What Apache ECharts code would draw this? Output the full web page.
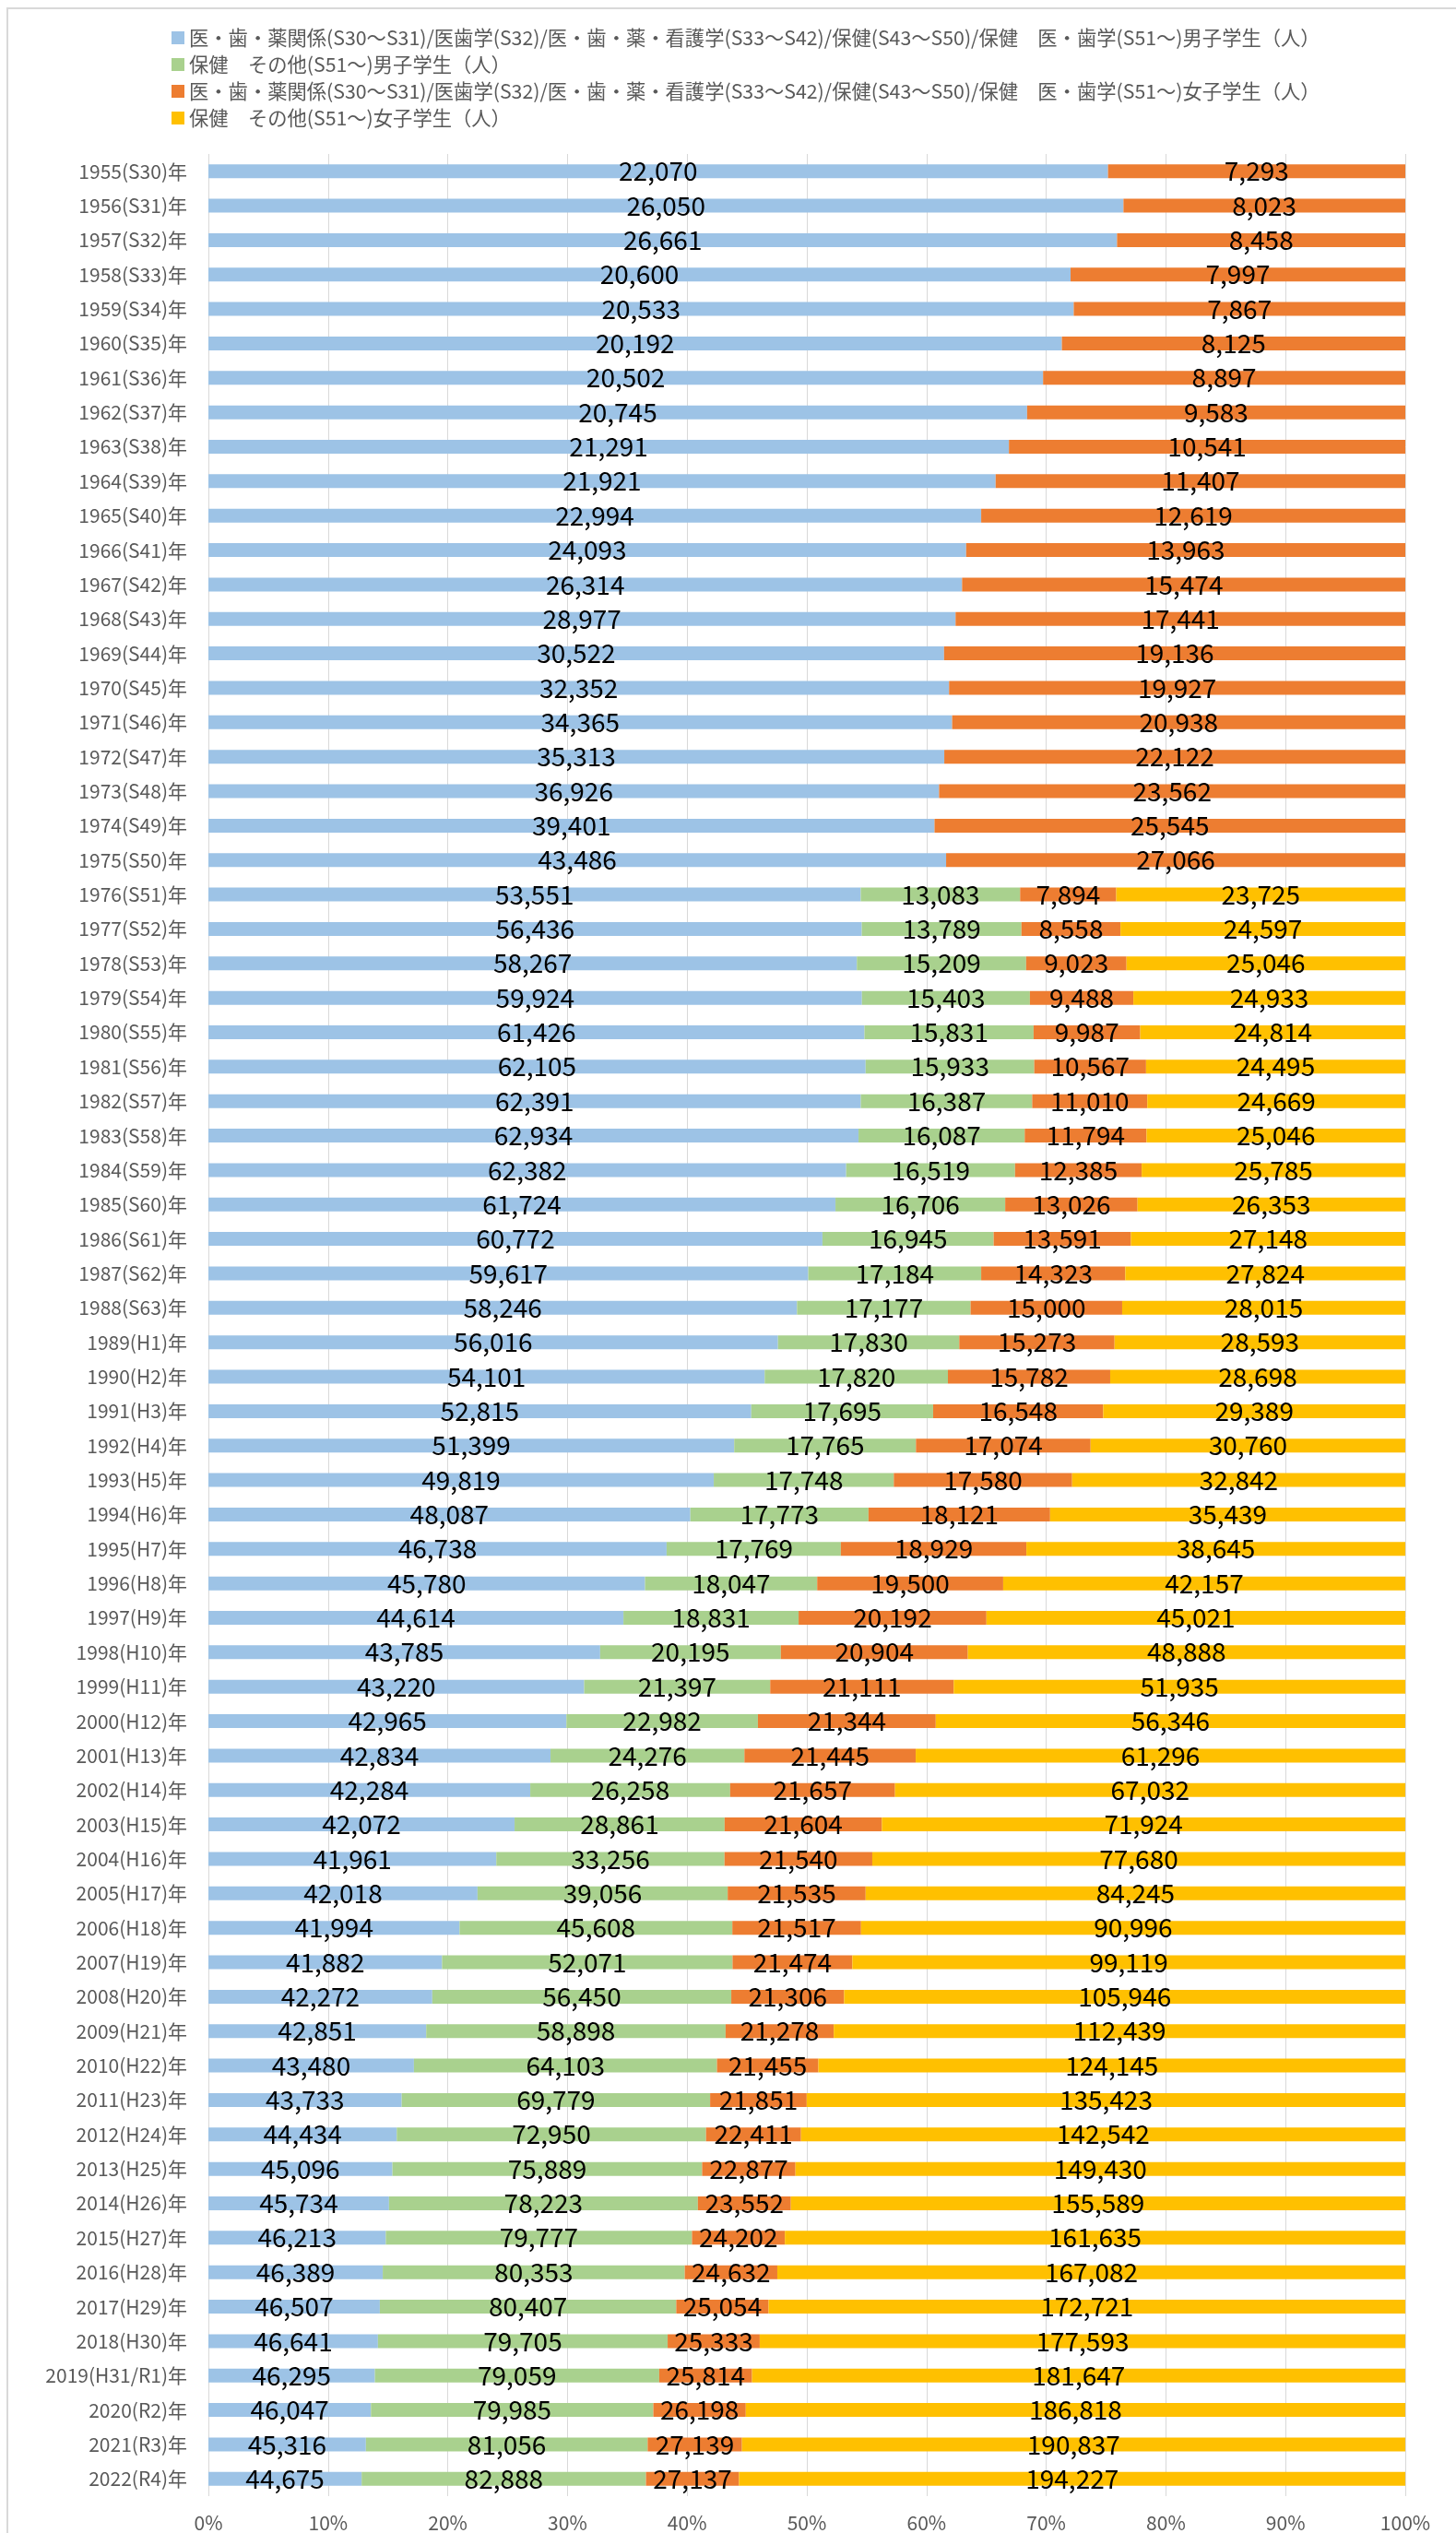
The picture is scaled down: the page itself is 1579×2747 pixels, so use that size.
<!DOCTYPE html>
<html>
<head>
<meta charset="utf-8">
<script src="https://cdn.jsdelivr.net/npm/echarts@6/dist/echarts.min.js"></script>
<style>
  html, body { margin: 0; padding: 0; background: #fff; }
  #main { width: 1579px; height: 2747px; }
</style>
</head>
<body>
<div id="main"></div>
<script>
// 年度ラベル
const years = [
  '1955(S30)年','1956(S31)年','1957(S32)年','1958(S33)年','1959(S34)年','1960(S35)年',
  '1961(S36)年','1962(S37)年','1963(S38)年','1964(S39)年','1965(S40)年','1966(S41)年',
  '1967(S42)年','1968(S43)年','1969(S44)年','1970(S45)年','1971(S46)年','1972(S47)年',
  '1973(S48)年','1974(S49)年','1975(S50)年','1976(S51)年','1977(S52)年','1978(S53)年',
  '1979(S54)年','1980(S55)年','1981(S56)年','1982(S57)年','1983(S58)年','1984(S59)年',
  '1985(S60)年','1986(S61)年','1987(S62)年','1988(S63)年','1989(H1)年','1990(H2)年',
  '1991(H3)年','1992(H4)年','1993(H5)年','1994(H6)年','1995(H7)年','1996(H8)年',
  '1997(H9)年','1998(H10)年','1999(H11)年','2000(H12)年','2001(H13)年','2002(H14)年',
  '2003(H15)年','2004(H16)年','2005(H17)年','2006(H18)年','2007(H19)年','2008(H20)年',
  '2009(H21)年','2010(H22)年','2011(H23)年','2012(H24)年','2013(H25)年','2014(H26)年',
  '2015(H27)年','2016(H28)年','2017(H29)年','2018(H30)年','2019(H31/R1)年','2020(R2)年',
  '2021(R3)年','2022(R4)年'
];

const seriesNames = [
  '医・歯・薬関係(S30～S31)/医歯学(S32)/医・歯・薬・看護学(S33～S42)/保健(S43～S50)/保健　医・歯学(S51～)男子学生（人）',
  '保健　その他(S51～)男子学生（人）',
  '医・歯・薬関係(S30～S31)/医歯学(S32)/医・歯・薬・看護学(S33～S42)/保健(S43～S50)/保健　医・歯学(S51～)女子学生（人）',
  '保健　その他(S51～)女子学生（人）'
];

// 男子 医・歯
const maleMed = [
  22070,26050,26661,20600,20533,20192,20502,20745,21291,21921,22994,24093,26314,28977,
  30522,32352,34365,35313,36926,39401,43486,53551,56436,58267,59924,61426,62105,62391,
  62934,62382,61724,60772,59617,58246,56016,54101,52815,51399,49819,48087,46738,45780,
  44614,43785,43220,42965,42834,42284,42072,41961,42018,41994,41882,42272,42851,43480,
  43733,44434,45096,45734,46213,46389,46507,46641,46295,46047,45316,44675
];
// 男子 その他 (S51～)
const maleOther = [
  null,null,null,null,null,null,null,null,null,null,null,null,null,null,null,null,null,null,null,null,null,
  13083,13789,15209,15403,15831,15933,16387,16087,16519,16706,16945,17184,17177,17830,
  17820,17695,17765,17748,17773,17769,18047,18831,20195,21397,22982,24276,26258,28861,
  33256,39056,45608,52071,56450,58898,64103,69779,72950,75889,78223,79777,80353,80407,
  79705,79059,79985,81056,82888
];
// 女子 医・歯
const femaleMed = [
  7293,8023,8458,7997,7867,8125,8897,9583,10541,11407,12619,13963,15474,17441,19136,
  19927,20938,22122,23562,25545,27066,7894,8558,9023,9488,9987,10567,11010,11794,12385,
  13026,13591,14323,15000,15273,15782,16548,17074,17580,18121,18929,19500,20192,20904,
  21111,21344,21445,21657,21604,21540,21535,21517,21474,21306,21278,21455,21851,22411,
  22877,23552,24202,24632,25054,25333,25814,26198,27139,27137
];
// 女子 その他 (S51～)
const femaleOther = [
  null,null,null,null,null,null,null,null,null,null,null,null,null,null,null,null,null,null,null,null,null,
  23725,24597,25046,24933,24814,24495,24669,25046,25785,26353,27148,27824,28015,28593,
  28698,29389,30760,32842,35439,38645,42157,45021,48888,51935,56346,61296,67032,71924,
  77680,84245,90996,99119,105946,112439,124145,135423,142542,149430,155589,161635,
  167082,172721,177593,181647,186818,190837,194227
];

const xTicks = ['0%','10%','20%','30%','40%','50%','60%','70%','80%','90%','100%'];

const colors = ['#9DC3E6', '#A9D18E', '#ED7D31', '#FFC000'];
const rawList = [maleMed, maleOther, femaleMed, femaleOther];

// 100%積み上げ用に割合を計算
const totals = years.map((_, i) => rawList.reduce((s, arr) => s + (arr[i] || 0), 0));

const FONT = "'Noto Sans CJK JP', 'Noto Sans', sans-serif";

const chart = echarts.init(document.getElementById('main'), null, { renderer: 'canvas' });

const series = rawList.map((arr, k) => ({
  name: seriesNames[k],
  type: 'bar',
  stack: 'total',
  barWidth: 15,
  itemStyle: { color: colors[k] },
  label: {
    show: true,
    position: 'inside',
    color: '#000',
    fontSize: 28,
    fontFamily: FONT,
    formatter: p => {
      const v = arr[p.dataIndex];
      return v == null ? '' : v.toLocaleString('en-US');
    }
  },
  data: arr.map((v, i) => v == null ? null : v / totals[i] * 100)
}));

chart.setOption({
  animation: false,
  backgroundColor: '#fff',
  textStyle: { fontFamily: FONT },
  graphic: [{
    type: 'rect',
    shape: { x: 8, y: 9, width: 1600, height: 2800 },
    style: { fill: 'none', stroke: '#D9D9D9', lineWidth: 2 },
    silent: true
  }],
  legend: {
    orient: 'vertical',
    left: 181,
    top: 25,
    itemWidth: 14,
    itemHeight: 14,
    itemGap: 7,
    icon: 'rect',
    textStyle: { fontSize: 21.3, color: '#595959', fontFamily: FONT, lineHeight: 22 },
    data: seriesNames
  },
  grid: { left: 226, right: 55, top: 167, bottom: 40 },
  xAxis: {
    type: 'value',
    min: 0,
    max: 100,
    interval: 10,
    axisLine: { show: false },
    axisTick: { show: false },
    splitLine: { show: true, lineStyle: { color: '#D9D9D9', width: 1 } },
    axisLabel: {
      fontSize: 21,
      color: '#595959',
      margin: 19,
      fontFamily: FONT,
      formatter: v => xTicks[Math.round(v / 10)]
    }
  },
  yAxis: {
    type: 'category',
    inverse: true,
    data: years,
    axisLine: { show: false },
    axisTick: { show: false },
    axisLabel: { fontSize: 21, color: '#595959', margin: 23, fontFamily: FONT }
  },
  series: series
});
</script>
</body>
</html>
